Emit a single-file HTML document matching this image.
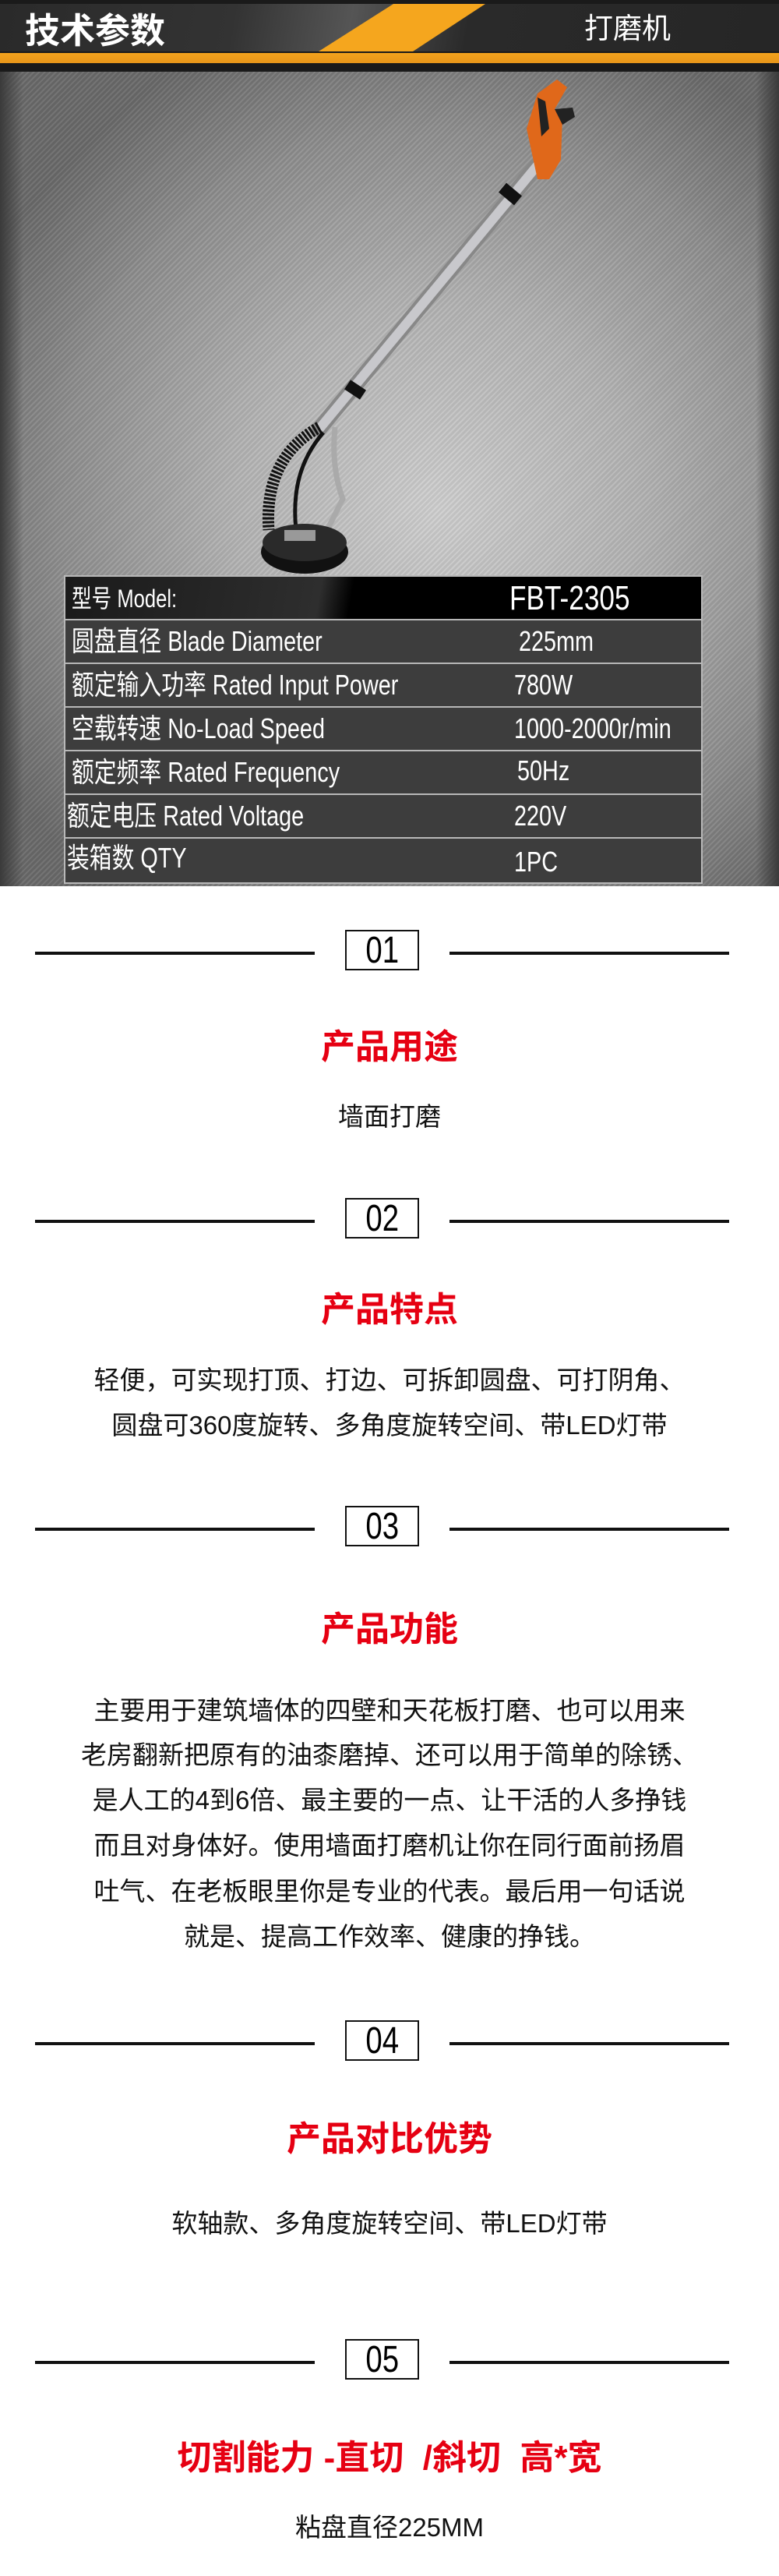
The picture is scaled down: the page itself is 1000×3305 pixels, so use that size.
<!DOCTYPE html>
<html><head><meta charset="utf-8"><style>
*{margin:0;padding:0;box-sizing:border-box}
body{width:1000px;height:3305px;background:#fff;position:relative;overflow:hidden;font-family:"Liberation Sans","Noto Sans CJK SC",sans-serif}
.a{position:absolute}
.c{position:absolute;left:0;width:1000px;text-align:center;white-space:nowrap}
.line{position:absolute;height:4px;background:#111}
.box{position:absolute;left:443px;width:95px;height:52px;border:2px solid #111;background:#fff;text-align:center;font-size:48px;line-height:50px;color:#000}
.box span{display:inline-block;transform:scaleX(.8)}
.t{color:#e60012;font-size:44px;font-weight:bold;line-height:50px}
.p{color:#111;font-size:33px;line-height:40px}
.row{position:absolute;left:82px;width:820px;border:2px solid #b8b8b8;background:#3d3d3d;color:#fff;font-size:36px;white-space:nowrap}
.row .l{position:absolute;left:8px;top:0;display:inline-block;transform:scaleX(.8);transform-origin:left}
.row .v{position:absolute;left:576px;top:0;display:inline-block;transform:scaleX(.8);transform-origin:left}
</style></head><body>
<!-- header -->
<div class="a" style="left:0;top:0;width:1000px;height:95px;background:#1a1a1a"></div>
<div class="a" style="left:0;top:5px;width:1000px;height:61px;background:linear-gradient(100deg,#2a2a2a 0%,#333 30%,#555 45%,#2a2a2a 60%,#262626 100%)"></div>
<svg class="a" style="left:0;top:0" width="1000" height="95"><polygon points="505,5 623,5 530,66 409,66" fill="#f5a61e"/></svg>
<div class="a" style="left:0;top:68px;width:1000px;height:13px;background:linear-gradient(#f3a31c,#e8961a)"></div>
<div class="a" style="left:32px;top:12px;font-size:45px;font-weight:bold;color:#fff;line-height:56px">技术参数</div>
<div class="a" style="left:750px;top:14px;font-size:37px;color:#fff;line-height:46px">打磨机</div>
<!-- photo -->
<div class="a" style="left:0;top:92px;width:1000px;height:1045px;background:radial-gradient(ellipse 650px 650px at 560px 560px,#d0d0d0 0%,#b4b4b4 40%,#8e8e8e 75%,#6a6a6a 100%)"></div>
<div class="a" style="left:0;top:92px;width:1000px;height:1045px;background:repeating-linear-gradient(135deg,rgba(255,255,255,.07) 0 2px,rgba(0,0,0,.06) 2px 5px)"></div>
<div class="a" style="left:0;top:92px;width:30px;height:1045px;background:linear-gradient(90deg,#3a3a3a,rgba(80,80,80,0))"></div>
<div class="a" style="right:0;top:92px;width:30px;height:1045px;background:linear-gradient(270deg,#3a3a3a,rgba(80,80,80,0))"></div>
<svg class="a" style="left:0;top:0" width="1000" height="1140">
 <line x1="700" y1="200" x2="410" y2="550" stroke="#888" stroke-width="20" stroke-linecap="round"/>
 <line x1="700" y1="200" x2="410" y2="550" stroke="#c8c8cc" stroke-width="12"/>
 <line x1="660" y1="243" x2="650" y2="255" stroke="#111" stroke-width="26"/>
 <line x1="460" y1="494" x2="452" y2="506" stroke="#111" stroke-width="24"/>
 <path d="M690 120 L715 102 L728 112 L712 140 L722 150 L720 205 L705 230 L690 230 L676 165 Z" fill="#e0681a"/>
 <path d="M712 140 L735 138 L738 150 L722 160 Z" fill="#222"/>
 <path d="M695 175 L705 165 L700 130 L690 125 Z" fill="#222"/>
 <path d="M430 548 Q425 600 440 640 L415 690" stroke="#aaa" stroke-width="7" fill="none"/>
 <path d="M410 548 C370 570 340 610 345 680" stroke="#111" stroke-width="15" fill="none" stroke-dasharray="3 2"/>
 <path d="M415 555 C385 590 375 630 380 680" stroke="#111" stroke-width="5" fill="none"/>
 <ellipse cx="391" cy="708" rx="56" ry="28" fill="#111"/>
 <ellipse cx="391" cy="696" rx="54" ry="24" fill="#2a2a2a"/>
 <rect x="365" y="680" width="40" height="14" fill="#999"/>
</svg>
<!-- table -->
<div class="row" style="top:738px;height:58px;background:linear-gradient(100deg,#1a1a1a,#2e2e2e 40%,#000 45%,#000)"><span class="l" style="line-height:56px;font-size:32px">型号 Model:</span><span class="v" style="left:570px;line-height:56px;font-size:44px">FBT-2305</span></div>
<div class="row" style="top:794px;height:58px"><span class="l" style="line-height:54px">圆盘直径 Blade Diameter</span><span class="v" style="left:582px;line-height:54px">225mm</span></div>
<div class="row" style="top:850px;height:58px"><span class="l" style="line-height:54px">额定输入功率 Rated Input Power</span><span class="v" style="line-height:54px">780W</span></div>
<div class="row" style="top:906px;height:58px"><span class="l" style="line-height:54px">空载转速 No-Load Speed</span><span class="v" style="line-height:54px">1000-2000r/min</span></div>
<div class="row" style="top:962px;height:58px"><span class="l" style="line-height:54px">额定频率 Rated Frequency</span><span class="v" style="left:580px;line-height:50px">50Hz</span></div>
<div class="row" style="top:1018px;height:58px"><span class="l" style="left:2px;line-height:54px">额定电压 Rated Voltage</span><span class="v" style="line-height:54px">220V</span></div>
<div class="row" style="top:1074px;height:60px"><span class="l" style="left:2px;line-height:50px">装箱数 QTY</span><span class="v" style="line-height:60px">1PC</span></div>
<!-- sections -->
<div class="line" style="left:45px;width:359px;top:1221px"></div><div class="line" style="left:577px;width:359px;top:1221px"></div>
<div class="box" style="top:1193px"><span>01</span></div>
<div class="c t" style="top:1319px">产品用途</div>
<div class="c p" style="top:1413px">墙面打磨</div>

<div class="line" style="left:45px;width:359px;top:1565px"></div><div class="line" style="left:577px;width:359px;top:1565px"></div>
<div class="box" style="top:1537px"><span>02</span></div>
<div class="c t" style="top:1656px">产品特点</div>
<div class="c p" style="top:1751px">轻便，可实现打顶、打边、可拆卸圆盘、可打阴角、</div>
<div class="c p" style="top:1809px">圆盘可360度旋转、多角度旋转空间、带LED灯带</div>

<div class="line" style="left:45px;width:359px;top:1960px"></div><div class="line" style="left:577px;width:359px;top:1960px"></div>
<div class="box" style="top:1932px"><span>03</span></div>
<div class="c t" style="top:2066px">产品功能</div>
<div class="c p" style="top:2175px">主要用于建筑墙体的四壁和天花板打磨、也可以用来</div>
<div class="c p" style="top:2232px">老房翻新把原有的油桼磨掉、还可以用于简单的除锈、</div>
<div class="c p" style="top:2290px">是人工的4到6倍、最主要的一点、让干活的人多挣钱</div>
<div class="c p" style="top:2348px">而且对身体好。使用墙面打磨机让你在同行面前扬眉</div>
<div class="c p" style="top:2407px">吐气、在老板眼里你是专业的代表。最后用一句话说</div>
<div class="c p" style="top:2465px">就是、提高工作效率、健康的挣钱。</div>

<div class="line" style="left:45px;width:359px;top:2620px"></div><div class="line" style="left:577px;width:359px;top:2620px"></div>
<div class="box" style="top:2592px"><span>04</span></div>
<div class="c t" style="top:2720px">产品对比优势</div>
<div class="c p" style="top:2833px">软轴款、多角度旋转空间、带LED灯带</div>

<div class="line" style="left:45px;width:359px;top:3029px"></div><div class="line" style="left:577px;width:359px;top:3029px"></div>
<div class="box" style="top:3001px"><span>05</span></div>
<div class="c t" style="top:3129px">切割能力 -直切 &nbsp;/斜切 &nbsp;高*宽</div>
<div class="c p" style="top:3223px">粘盘直径225MM</div>
</body></html>
